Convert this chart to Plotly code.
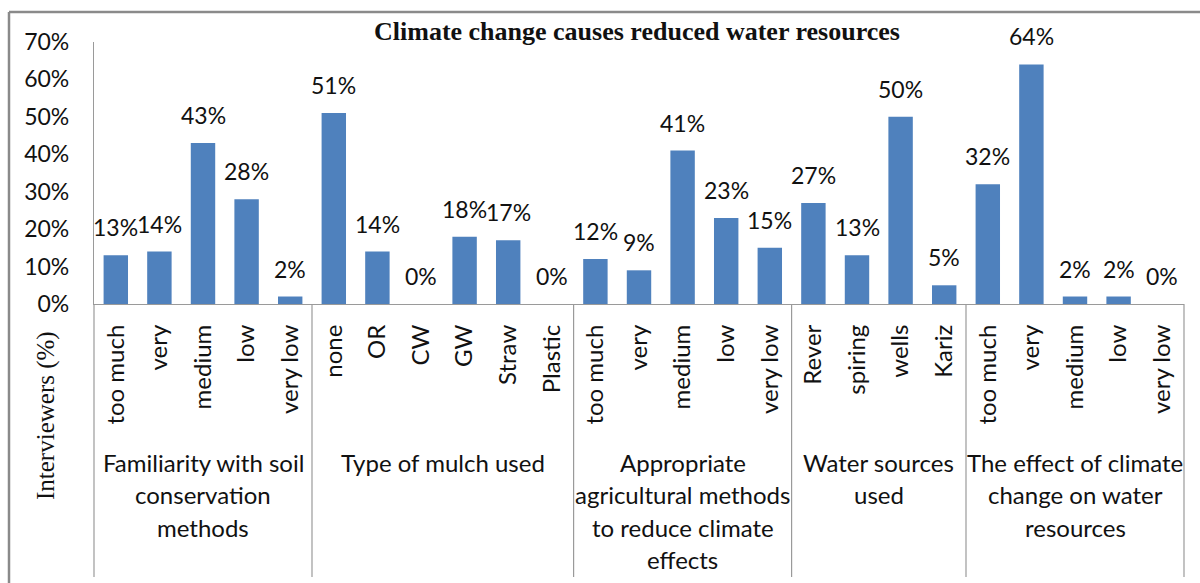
import plotly.graph_objects as go

# Survey groups, their answer categories and the share of interviewees (%)
groups = [
    ["Familiarity with soil", "conservation", "methods"],
    ["Type of mulch used"],
    ["Appropriate", "agricultural methods", "to reduce climate", "effects"],
    ["Water sources", "used"],
    ["The effect of climate", "change on water", "resources"],
]
categories = [
    ["too much", "very", "medium", "low", "very low"],
    ["none", "OR", "CW", "GW", "Straw", "Plastic"],
    ["too much", "very", "medium", "low", "very low"],
    ["Rever", "spiring", "wells", "Kariz"],
    ["too much", "very", "medium", "low", "very low"],
]
values = [
    [13, 14, 43, 28, 2],
    [51, 14, 0, 18, 17, 0],
    [12, 9, 41, 23, 15],
    [27, 13, 50, 5],
    [32, 64, 2, 2, 0],
]
y_ticks = [0, 10, 20, 30, 40, 50, 60, 70]

BAR = "#4F81BD"
AXIS = "#9a9a9a"
TEXT = "#111111"
SANS = "Lato, Open Sans, sans-serif"
SERIF = "Liberation Serif, Times New Roman, serif"

labels = [c for grp in categories for c in grp]
vals = [v for grp in values for v in grp]
xs = list(range(len(vals)))
n = len(vals)

# plot area in pixels, used to place paper-referenced decorations
PL, PR, PT, PB = 94, 1184, 42, 304
PW, PH = PR - PL, PB - PT


def px_x(x):
    return (x - PL) / PW


def px_y(y):
    return (PB - y) / PH


fig = go.Figure(
    go.Bar(
        x=xs,
        y=vals,
        width=0.56,
        marker=dict(color=BAR, line=dict(width=0)),
        cliponaxis=False,
        hoverinfo="skip",
    )
)

shapes = []
annotations = []

# value labels above each bar
for x, v in zip(xs, vals):
    annotations.append(dict(
        x=x, xref="x", y=v, yref="y", text=f"{v}%", showarrow=False,
        xanchor="center", yanchor="bottom", yshift=12,
        font=dict(family=SANS, size=23, color=TEXT),
    ))

# group separators and group captions below the category labels
start = 0
for grp_lines, cats in zip(groups, categories):
    end = start + len(cats)
    x0 = start / n
    x1 = end / n
    for xp in ([x0] if start == 0 else []) + [x1]:
        shapes.append(dict(type="line", xref="paper", yref="paper",
                           x0=xp, x1=xp, y0=0, y1=px_y(577),
                           line=dict(color=AXIS, width=1.2)))
    cx = (x0 + x1) / 2
    for k, line in enumerate(grp_lines):
        annotations.append(dict(
            x=cx, xref="paper", y=px_y(462 + 32.5 * k), yref="paper",
            text=line, showarrow=False, xanchor="center", yanchor="middle",
            font=dict(family=SANS, size=24, color=TEXT),
        ))
    start = end

# outer frame (top and left edges)
shapes.append(dict(type="line", xref="paper", yref="paper",
                   x0=px_x(9), x1=px_x(1210), y0=px_y(12), y1=px_y(12),
                   line=dict(color="#8a8a8a", width=2.5)))
shapes.append(dict(type="line", xref="paper", yref="paper",
                   x0=px_x(9), x1=px_x(9), y0=px_y(12), y1=px_y(600),
                   line=dict(color="#8a8a8a", width=2.5)))

annotations.append(dict(
    x=px_x(46), xref="paper", y=px_y(416), yref="paper",
    text="Interviewers (%)", textangle=-90, showarrow=False,
    xanchor="center", yanchor="middle",
    font=dict(family=SERIF, size=25, color=TEXT),
))
annotations.append(dict(
    x=px_x(637), xref="paper", y=px_y(31), yref="paper",
    text="<b>Climate change causes reduced water resources</b>",
    showarrow=False, xanchor="center", yanchor="middle",
    font=dict(family=SERIF, size=26, color=TEXT),
))

fig.update_layout(
    width=1200, height=583,
    margin=dict(l=PL, r=1200 - PR, t=PT, b=583 - PB),
    paper_bgcolor="white", plot_bgcolor="white",
    showlegend=False,
    shapes=shapes, annotations=annotations,
    xaxis=dict(
        range=[-0.5, n - 0.5], tickmode="array", tickvals=xs, ticktext=labels,
        tickangle=-90, showline=True, linecolor=AXIS, linewidth=1.2,
        ticks="", showgrid=False, zeroline=False, ticklabelstandoff=10,
        tickfont=dict(family=SANS, size=24, color=TEXT),
    ),
    yaxis=dict(
        range=[0, 70], tickmode="array", tickvals=y_ticks,
        ticktext=[f"{t}%" for t in y_ticks],
        showline=True, linecolor=AXIS, linewidth=1.2, ticks="",
        showgrid=False, zeroline=False, ticklabelstandoff=19,
        tickfont=dict(family=SANS, size=23, color=TEXT),
    ),
)

fig.write_html("out.html")
